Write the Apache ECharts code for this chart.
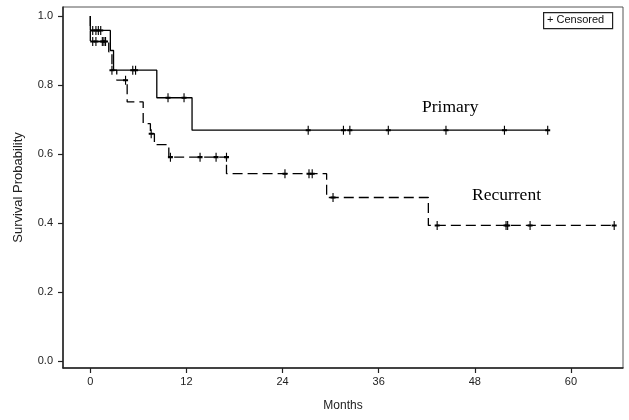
<!DOCTYPE html>
<html><head><meta charset="utf-8">
<script src="https://cdn.jsdelivr.net/npm/echarts@6/dist/echarts.min.js"></script>
<style>html,body{margin:0;padding:0;background:#fff}#c{width:629px;height:420px}</style>
</head><body><div id="c"></div>
<script>
// Kaplan-Meier step data: [time (months), survival after that time]
const primarySteps = [[0, 1.0], [0, 0.958], [2.5, 0.90], [2.9, 0.843], [8.3, 0.763], [12.7, 0.669], [57.1, 0.669]];
const recurrentSteps = [[0, 1.0], [0, 0.926], [2.3, 0.896], [2.7, 0.843], [3.3, 0.814], [4.6, 0.751], [6.6, 0.688], [7.5, 0.659], [8.0, 0.627], [9.8, 0.591], [17.0, 0.543], [29.5, 0.474], [42.2, 0.393], [65.4, 0.393]];
// censored observations
const primaryCensored = [[0.3, 0.958], [0.7, 0.958], [1.0, 0.958], [1.3, 0.958], [5.3, 0.843], [5.65, 0.843], [9.7, 0.763], [11.7, 0.763], [27.2, 0.669], [31.6, 0.669], [32.4, 0.669], [37.2, 0.669], [44.4, 0.669], [51.7, 0.669], [57.1, 0.669]];
const recurrentCensored = [[0.3, 0.926], [0.7, 0.926], [1.5, 0.926], [1.7, 0.926], [1.9, 0.926], [2.7, 0.843], [4.4, 0.814], [7.6, 0.659], [10.0, 0.591], [13.7, 0.591], [15.7, 0.591], [17.0, 0.591], [24.3, 0.543], [27.3, 0.543], [27.7, 0.543], [30.3, 0.474], [43.3, 0.393], [51.9, 0.393], [52.1, 0.393], [54.9, 0.393], [65.4, 0.393]];
const xTicks = [0, 12, 24, 36, 48, 60];
const yTicks = [0, 0.2, 0.4, 0.6, 0.8, 1.0];
const groupLabels = ['Primary', 'Recurrent'];

const chart = echarts.init(document.getElementById('c'), null, {renderer: 'canvas'});
const tickFont = "'Liberation Sans Narrow','Liberation Sans',Arial,sans-serif";
const censorSymbol = 'path://M5,0L5,10M0,5L10,5';
const censorStyle = {color: 'none', borderColor: '#000', borderWidth: 1.5, opacity: 1};
chart.setOption({
  animation: false,
  backgroundColor: '#fff',
  grid: {left: 63, right: 6, top: 7, bottom: 52, show: true, borderColor: '#555', borderWidth: 1},
  xAxis: {
    type: 'value', min: -3.41, max: 66.5,
    name: 'Months', nameLocation: 'middle', nameGap: 32,
    nameTextStyle: {fontFamily: tickFont, fontSize: 12, color: '#222'},
    axisLine: {show: true, onZero: false, lineStyle: {color: '#222', width: 1.5}},
    axisTick: {show: true, customValues: xTicks, length: 5, lineStyle: {color: '#222', width: 1.2}},
    axisLabel: {customValues: xTicks, fontFamily: tickFont, fontSize: 11, color: '#222', margin: 8},
    splitLine: {show: false}
  },
  yAxis: {
    type: 'value', min: -0.02, max: 1.026,
    name: 'Survival Probability', nameLocation: 'middle', nameGap: 38,
    nameTextStyle: {fontFamily: tickFont, fontSize: 13, color: '#222'},
    axisLine: {show: true, onZero: false, lineStyle: {color: '#222', width: 1.5}},
    axisTick: {show: true, customValues: yTicks, length: 5, lineStyle: {color: '#222', width: 1.2}},
    axisLabel: {customValues: yTicks, fontFamily: tickFont, fontSize: 11, color: '#222', margin: 10,
      formatter: v => v.toFixed(1)},
    splitLine: {show: false}
  },
  series: [
    {type: 'line', name: groupLabels[0], data: primarySteps, step: 'end', showSymbol: false,
      lineStyle: {color: '#000', width: 1.3}},
    {type: 'line', name: groupLabels[1], data: recurrentSteps, step: 'end', showSymbol: false,
      lineStyle: {color: '#000', width: 1.3, type: [10, 5]}},
    {type: 'scatter', name: 'Censored', data: primaryCensored, symbol: censorSymbol, symbolSize: [5, 9], itemStyle: censorStyle},
    {type: 'scatter', name: 'Censored', data: recurrentCensored, symbol: censorSymbol, symbolSize: [5, 9], itemStyle: censorStyle}
  ],
  graphic: [
    {type: 'rect', left: 543, top: 12, shape: {width: 69, height: 16}, style: {fill: '#fff', stroke: '#222', lineWidth: 1.2}},
    {type: 'text', left: 547, top: 14, style: {text: '+ Censored', font: "11px " + tickFont, fill: '#111'}},
    {type: 'text', left: 422, top: 98, style: {text: groupLabels[0], font: "17.5px 'Liberation Serif','Times New Roman',serif", fill: '#000'}},
    {type: 'text', left: 472, top: 186, style: {text: groupLabels[1], font: "17.5px 'Liberation Serif','Times New Roman',serif", fill: '#000'}}
  ]
});
</script></body></html>
